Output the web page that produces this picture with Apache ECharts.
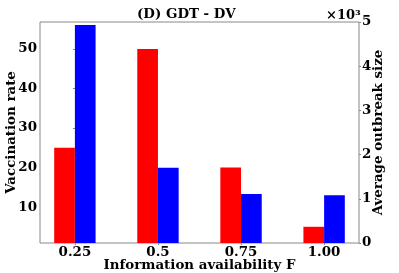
<!DOCTYPE html>
<html><head><meta charset="utf-8">
<script src="https://cdn.jsdelivr.net/npm/echarts@6/dist/echarts.min.js"></script>
<style>html,body{margin:0;padding:0;background:#fff}#c{width:399px;height:273px}</style>
</head><body><div id="c"></div>
<script>
const categories = ['0.25', '0.5', '0.75', '1.00'];
const vaccinationRate = [25, 50, 20, 5];
const outbreakSize = [4.93, 1.70, 1.11, 1.08]; // x10^3
const leftTicks = [10, 20, 30, 40, 50];
const rightTicks = [0, 1, 2, 3, 4, 5];

const F = 'DejaVu Serif';
const FS = 13.4;
const chart = echarts.init(document.getElementById('c'), null, {renderer: 'canvas'});
const lbl = {fontFamily: F, fontWeight: 'bold', fontSize: FS, color: '#000'};
const nameStyle = {fontFamily: F, fontWeight: 'bold', fontSize: FS, color: '#000'};
chart.setOption({
  animation: false,
  title: {text: '(D) GDT - DV', left: 137, top: 8, padding: 0, textStyle: nameStyle},
  grid: {left: 40, right: 40, top: 22, bottom: 30, show: true, borderColor: '#888', borderWidth: 1, outerBoundsMode: 'none', containLabel: false},
  xAxis: {
    type: 'value', min: -0.42, max: 3.42,
    axisLine: {show: false}, splitLine: {show: false},
    axisTick: {show: true, length: 2, lineStyle: {color: '#888'}, customValues: categories.map((c, i) => i)},
    axisLabel: Object.assign({margin: 3, customValues: categories.map((c, i) => i), formatter: v => categories[Math.round(v)]}, lbl),
    name: 'Information availability F', nameLocation: 'middle', nameGap: 16, nameMoveOverlap: false,
    nameTextStyle: nameStyle
  },
  yAxis: [{
    type: 'value', min: 0.9, max: 56.8, position: 'left',
    axisLine: {show: false}, splitLine: {show: false},
    axisTick: {show: true, length: 2, lineStyle: {color: '#888'}, customValues: leftTicks},
    axisLabel: Object.assign({margin: 3, customValues: leftTicks}, lbl),
    name: 'Vaccination rate', nameLocation: 'middle', nameGap: 22, nameMoveOverlap: false,
    nameTextStyle: nameStyle
  }, {
    type: 'value', min: 0, max: 5, interval: 1, position: 'right',
    axisLine: {show: false}, splitLine: {show: false},
    axisTick: {show: true, length: 2, lineStyle: {color: '#888'}},
    axisLabel: Object.assign({margin: 3}, lbl),
    name: 'Average outbreak size', nameLocation: 'middle', nameGap: 13, nameRotate: 90, nameMoveOverlap: false,
    nameTextStyle: nameStyle
  }],
  graphic: [{
    type: 'text', left: 326, top: 9,
    style: {text: '×10³', font: 'bold 13px "DejaVu Serif"', fill: '#000'}
  }],
  series: [{
    type: 'bar', yAxisIndex: 0, barWidth: 20.7, barGap: '0%',
    itemStyle: {color: '#ff0000'},
    data: vaccinationRate.map((v, i) => [i, v])
  }, {
    type: 'bar', yAxisIndex: 1, barWidth: 20.7, barGap: '0%',
    itemStyle: {color: '#0000ff'},
    data: outbreakSize.map((v, i) => [i, v])
  }]
});
</script></body></html>
